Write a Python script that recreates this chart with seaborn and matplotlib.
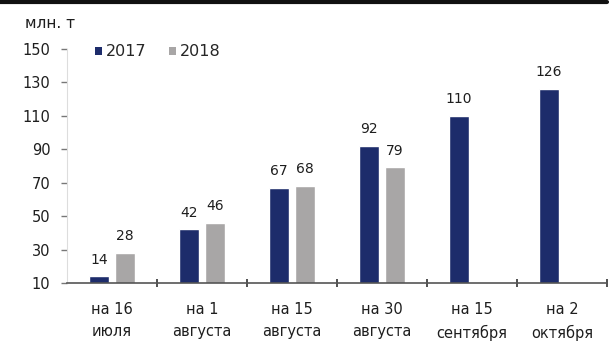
import numpy as np
import pandas as pd
import seaborn as sns
import matplotlib.pyplot as plt
from matplotlib.lines import Line2D
from matplotlib.patches import Patch

# Harvest progress, million tonnes, by reporting date
dates = ["на 16\nиюля", "на 1\nавгуста", "на 15\nавгуста",
         "на 30\nавгуста", "на 15\nсентября", "на 2\nоктября"]
years = ["2017", "2018"]
values_2017 = [14, 42, 67, 92, 110, 126]
values_2018 = [28, 46, 68, 79, np.nan, np.nan]
y_ticks = [10, 30, 50, 70, 90, 110, 130, 150]
unit_label = "млн. т"

colors = {"2017": "#1d2c6b", "2018": "#a8a6a6"}
text_color = "#1e1e1e"

df = pd.DataFrame({
    "date": dates * 2,
    "year": [years[0]] * len(dates) + [years[1]] * len(dates),
    "value": values_2017 + values_2018,
}).dropna()

sns.set_style("white")
plt.rcParams["font.family"] = ["DejaVu Sans"]

fig = plt.figure(figsize=(6.11, 3.58), dpi=100)
ax = fig.add_axes([0.1097, 0.2095, 0.9935 - 0.1097, 0.8645 - 0.2095])

sns.barplot(data=df, x="date", y="value", hue="year", order=dates,
            hue_order=years, palette=colors, width=0.58, gap=0.22,
            saturation=1, legend=False, ax=ax)

# value labels above each bar
for cont in ax.containers:
    ax.bar_label(cont, fmt="%.0f", padding=7, fontsize=10, color=text_color)

ax.set_ylim(10, 150)
ax.set_yticks(y_ticks)
ax.set_yticklabels([str(t) for t in y_ticks], fontsize=10.5, color=text_color)
ax.set_xlim(-0.5, len(dates) - 0.5)
ax.set_xlabel("")
ax.set_ylabel("")

ax.tick_params(axis="y", length=4, width=1, color="#777777", pad=8, left=True)
ax.tick_params(axis="x", which="major", length=0, pad=14, labelsize=10.5,
               labelcolor=text_color)
for lbl in ax.get_xticklabels():
    lbl.set_linespacing(1.55)
ax.set_xticks(np.arange(0.5, len(dates)), minor=True)
ax.tick_params(axis="x", which="minor", direction="inout", length=6, width=1.2,
               color="#333333", bottom=True)

for side in ["top", "right"]:
    ax.spines[side].set_visible(False)
ax.spines["left"].set_color("#dddddd")
ax.spines["bottom"].set_color("#555555")
ax.spines["bottom"].set_linewidth(1.2)

# unit label and legend
fig.text(25 / 611, 1 - 24 / 358, unit_label, fontsize=11, color=text_color,
         va="center", ha="left")
handles = [Patch(facecolor=colors[y], edgecolor="none") for y in years]
fig.legend(handles, years, loc="center left", bbox_to_anchor=(95 / 611, 1 - 52 / 358),
           ncol=2, frameon=False, handlelength=0.45, handleheight=0.45,
           handletextpad=0.25, columnspacing=1.4, borderaxespad=0, borderpad=0,
           prop={"size": 11.5})

# rule along the top edge
fig.add_artist(Line2D([0, 0.993], [0.994, 0.994], lw=3, color="#111111",
                      transform=fig.transFigure))

fig.savefig("out.png", dpi=100)
